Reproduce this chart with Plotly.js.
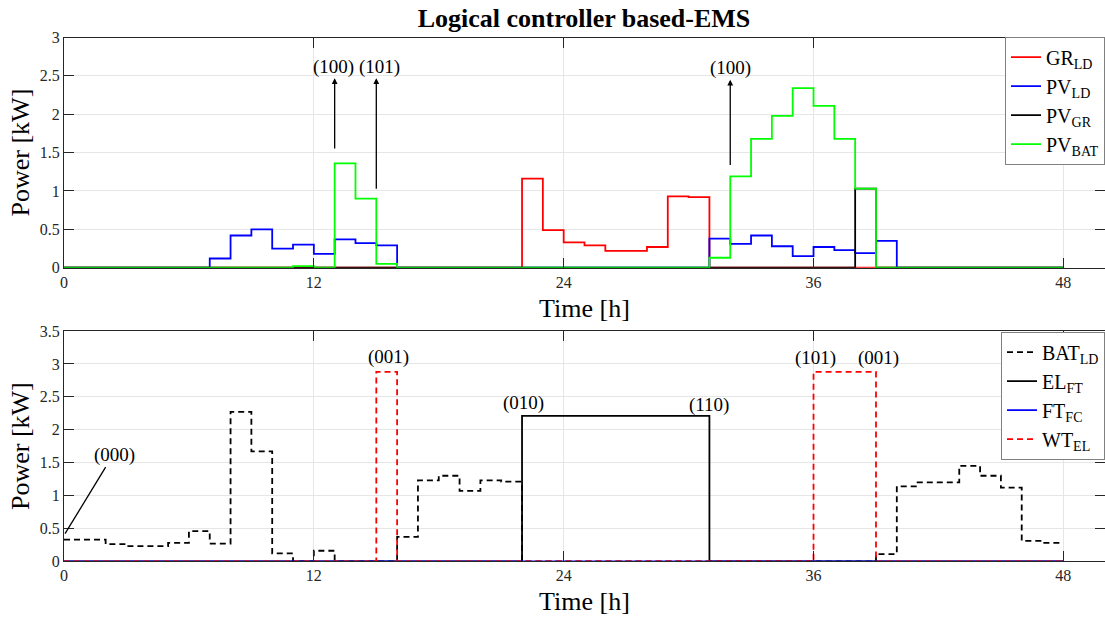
<!DOCTYPE html>
<html>
<head>
<meta charset="utf-8">
<script src="https://cdn.plot.ly/plotly-3.0.1.min.js"></script>
<style>html,body{margin:0;padding:0;background:#fff;}#chart{width:1105px;height:622px;}</style>
</head>
<body>
<div id="chart"></div>
<script>
// Time axis (hours); each value holds for one hour (stairs)
const hours = [0,1,2,3,4,5,6,7,8,9,10,11,12,13,14,15,16,17,18,19,20,21,22,23,24,25,26,27,28,29,30,31,32,33,34,35,36,37,38,39,40,41,42,43,44,45,46,47,48];
const xTicks = [0,12,24,36,48];

// Top panel series (kW), hours 0..47
const GR_LD  = [0,0,0,0,0,0,0,0,0,0,0,0,0,0,0,0,0,0,0,0,0,0,1.16,0.49,0.33,0.29,0.22,0.22,0.27,0.93,0.92,0,0,0,0,0,0,0,0,0,0,0,0,0,0,0,0,0];
const PV_LD  = [0,0,0,0,0,0,0,0.12,0.42,0.50,0.25,0.30,0.18,0.37,0.32,0.29,0,0,0,0,0,0,0,0,0,0,0,0,0,0,0,0.38,0.31,0.42,0.28,0.15,0.27,0.23,0.19,0.35,0,0,0,0,0,0,0,0];
const PV_GR  = [0,0,0,0,0,0,0,0,0,0,0,0,0,0,0,0,0,0,0,0,0,0,0,0,0,0,0,0,0,0,0,0,0,0,0,0,0,0,1.03,0,0,0,0,0,0,0,0,0];
const PV_BAT = [0,0,0,0,0,0,0,0,0,0,0,0.02,0,1.36,0.90,0.05,0,0,0,0,0,0,0,0,0,0,0,0,0,0,0,0.13,1.19,1.68,1.98,2.34,2.11,1.68,1.03,0,0,0,0,0,0,0,0,0];

// Bottom panel series (kW), hours 0..47
const BAT_LD = [0.33,0.33,0.26,0.23,0.23,0.28,0.46,0.27,2.27,1.67,0.12,0,0.16,0,0,0,0.37,1.23,1.30,1.07,1.23,1.21,0,0,0,0,0,0,0,0,0,0,0,0,0,0,0,0,0,0.11,1.14,1.20,1.20,1.45,1.30,1.12,0.31,0.28];
const EL_FT  = [0,0,0,0,0,0,0,0,0,0,0,0,0,0,0,0,0,0,0,0,0,0,2.21,2.21,2.21,2.21,2.21,2.21,2.21,2.21,2.21,0,0,0,0,0,0,0,0,0,0,0,0,0,0,0,0,0];
const FT_FC  = [0,0,0,0,0,0,0,0,0,0,0,0,0,0,0,0,0,0,0,0,0,0,0,0,0,0,0,0,0,0,0,0,0,0,0,0,0,0,0,0,0,0,0,0,0,0,0,0];
const WT_EL  = [0,0,0,0,0,0,0,0,0,0,0,0,0,0,0,2.88,0,0,0,0,0,0,0,0,0,0,0,0,0,0,0,0,0,0,0,0,2.88,2.88,2.88,0,0,0,0,0,0,0,0,0];

// State labels
const topLabels = [
  {text:'(100)', x:12.93, y:2.62},
  {text:'(101)', x:15.17, y:2.62},
  {text:'(100)', x:32.0,  y:2.60}
];
const topArrows = [
  {x:13.0, y:2.47, ax:13.0, ay:1.535},
  {x:15.0, y:2.47, ax:15.0, ay:1.01},
  {x:32.0, y:2.45, ax:32.0, ay:1.32}
];
const botLabels = [
  {text:'(000)', x:2.41,  y:1.61},
  {text:'(001)', x:15.57, y:3.11},
  {text:'(010)', x:22.05, y:2.40},
  {text:'(110)', x:31.0,  y:2.38},
  {text:'(101)', x:36.1,  y:3.09},
  {text:'(001)', x:39.14, y:3.09}
];

function stair(v){ return v.concat([v[v.length-1]]); }

const FONT = "'Liberation Serif', 'Times New Roman', serif";
const LW = 1.8;

function tr(y, name, color, dash, xa, ya, leg){
  return {x: hours, y: stair(y), name: name, type:'scatter', mode:'lines',
    line:{shape:'hv', color:color, width:LW, dash:dash||'solid'},
    xaxis:xa, yaxis:ya, legend:leg};
}

const data = [
  tr(GR_LD,  'GR<sub>LD</sub>',  '#ff0000', null, 'x', 'y', 'legend'),
  tr(PV_LD,  'PV<sub>LD</sub>',  '#0000ff', null, 'x', 'y', 'legend'),
  tr(PV_GR,  'PV<sub>GR</sub>',  '#000000', null, 'x', 'y', 'legend'),
  tr(PV_BAT, 'PV<sub>BAT</sub>', '#00ff00', null, 'x', 'y', 'legend'),
  tr(BAT_LD, 'BAT<sub>LD</sub>', '#000000', '6px,4px', 'x2', 'y2', 'legend2'),
  tr(EL_FT,  'EL<sub>FT</sub>',  '#000000', null, 'x2', 'y2', 'legend2'),
  tr(FT_FC,  'FT<sub>FC</sub>',  '#0000ff', null, 'x2', 'y2', 'legend2'),
  tr(WT_EL,  'WT<sub>EL</sub>',  '#ff0000', '6px,4px', 'x2', 'y2', 'legend2')
];

function xax(anchor){
  return {domain:[0,1], range:[0,50], anchor:anchor, tickvals:xTicks, ticktext:xTicks.map(String),
    ticks:'inside', ticklen:10, tickcolor:'#262626', mirror:'ticks', showline:true, linecolor:'#262626', linewidth:1,
    showgrid:true, gridcolor:'#e6e6e6', zeroline:false, automargin:false,
    tickfont:{family:FONT, size:16, color:'#262626'},
    title:{text:'Time [h]', font:{family:FONT, size:26, color:'#000'}, standoff:8}};
}
function yax(anchor, domain, top){
  return {domain:domain, range:[0,top], anchor:anchor, dtick:0.5, tick0:0,
    ticks:'inside', ticklen:10, tickcolor:'#262626', mirror:'ticks', showline:true, linecolor:'#262626', linewidth:1,
    showgrid:true, gridcolor:'#e6e6e6', zeroline:false, automargin:false,
    tickfont:{family:FONT, size:16, color:'#262626'},
    title:{text:'Power [kW]', font:{family:FONT, size:26, color:'#000'}, standoff:2}};
}

const annotations = [];
topLabels.forEach(a => annotations.push({xref:'x', yref:'y', x:a.x, y:a.y, text:a.text, showarrow:false,
  font:{family:FONT, size:19, color:'#000'}}));
topArrows.forEach(a => annotations.push({xref:'x', yref:'y', axref:'x', ayref:'y', x:a.x, y:a.y, ax:a.ax, ay:a.ay,
  text:'', showarrow:true, arrowhead:2, arrowsize:0.9, arrowwidth:1.3, arrowcolor:'#000', standoff:0, startstandoff:0}));
botLabels.forEach(a => annotations.push({xref:'x2', yref:'y2', x:a.x, y:a.y, text:a.text, showarrow:false,
  font:{family:FONT, size:19, color:'#000'}}));

const layout = {
  width:1105, height:622,
  margin:{l:64, r:0, t:0, b:0},
  paper_bgcolor:'#fff', plot_bgcolor:'#fff',
  font:{family:FONT, color:'#000'},
  title:{text:'<b>Logical controller based-EMS</b>', font:{family:FONT, size:26, color:'#000'},
    xref:'container', yref:'container', x:0.5285, y:0.971, xanchor:'center', yanchor:'middle'},
  xaxis: xax('y'),
  yaxis: yax('x', [0.5696, 0.9397], 3),
  xaxis2: xax('y2'),
  yaxis2: yax('x2', [0.0976, 0.4678], 3.5),
  showlegend:true,
  legend:{x:1, xanchor:'right', y:0.941, yanchor:'top', bgcolor:'#fff', bordercolor:'#808080', borderwidth:1,
    font:{family:FONT, size:20, color:'#000'}, itemwidth:30, tracegroupgap:0},
  legend2:{x:1, xanchor:'right', y:0.4667, yanchor:'top', bgcolor:'#fff', bordercolor:'#808080', borderwidth:1,
    font:{family:FONT, size:20, color:'#000'}, itemwidth:30, tracegroupgap:0},
  annotations: annotations,
  shapes:[{type:'line', xref:'x2', yref:'y2', x0:0.05, y0:0.42, x1:2.0, y1:1.43, line:{color:'#000', width:1.3}}]
};

Plotly.newPlot('chart', data, layout, {displayModeBar:false, staticPlot:true});
</script>
</body>
</html>
